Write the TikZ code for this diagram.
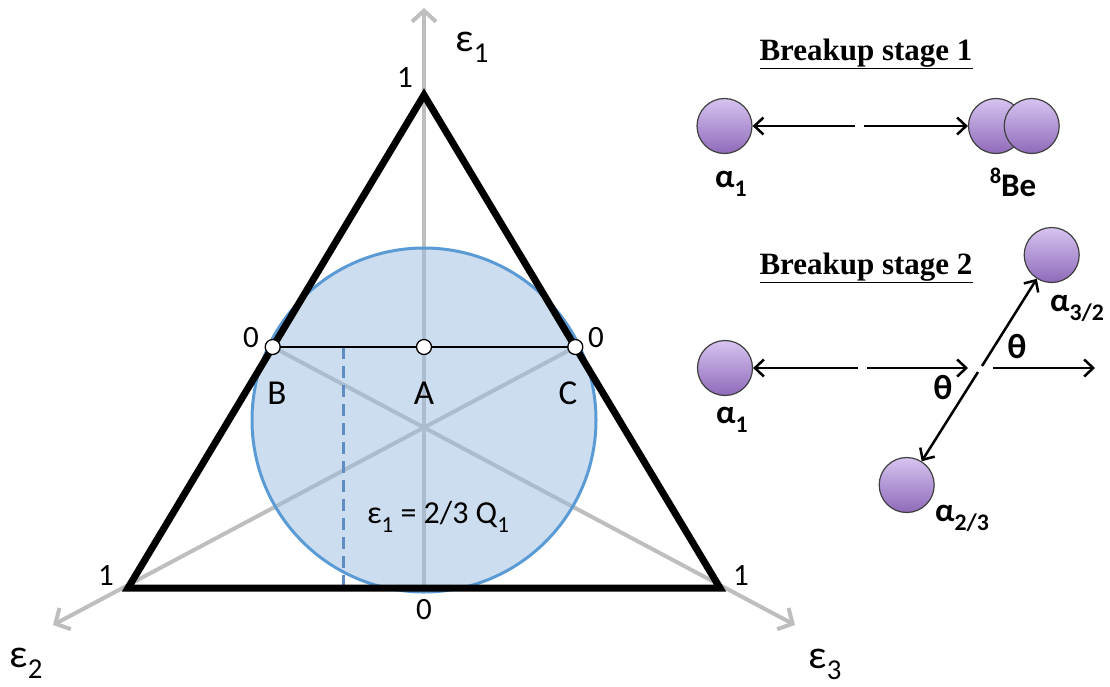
\documentclass[tikz,border=0pt]{standalone}
\usepackage{fontspec}
\setmainfont{Carlito}
\newfontfamily\titlefont{Liberation Serif}
\usetikzlibrary{arrows.meta,calc}

\definecolor{axisgray}{RGB}{190,190,190}
\definecolor{discfill}{RGB}{155,187,225}
\definecolor{discline}{RGB}{91,155,213}
\definecolor{dashblue}{RGB}{95,140,195}
\definecolor{balltop}{RGB}{214,196,240}
\definecolor{ballbot}{RGB}{143,106,186}

% lowered small index, set in the current text font
\newcommand\idx[1]{\raisebox{-0.28em}{\scalebox{0.72}{#1}}}
\newcommand\upidx[1]{\raisebox{0.40em}{\scalebox{0.68}{#1}}}

\tikzset{
  axisarrow/.style={draw=axisgray, line width=4, -{Straight Barb[length=11,width=24]}},
  disc/.style={circle, inner sep=0, minimum size=344, fill=discfill, fill opacity=0.5,
               draw=discline, line width=3},
  dashmark/.style={draw=dashblue, line width=3, dash pattern=on 12 off 7},
  triangle/.style={line width=7, line join=miter},
  chord/.style={line width=2},
  dot/.style={circle, inner sep=0, minimum size=15, fill=white, draw=black, line width=1.3},
  txt/.style={inner sep=1pt},
  num/.style={txt, font=\fontsize{31}{36}\selectfont},
  letter/.style={txt, font=\fontsize{35}{40}\selectfont},
  axislabel/.style={txt, font=\fontsize{40}{46}\selectfont},
  formula/.style={txt, font=\fontsize{32}{38}\selectfont},
  stagetitle/.style={txt, font=\titlefont\bfseries\fontsize{31}{36}\selectfont},
  ball/.style={circle, inner sep=0, minimum size=55, draw=black!75, line width=1.2,
               top color=balltop, bottom color=ballbot},
  particle/.style={txt, font=\bfseries\fontsize{33}{38}\selectfont},
  anglelabel/.style={txt, font=\bfseries\fontsize{35}{40}\selectfont},
  motion/.style={line width=2.5, -{Straight Barb[length=9,width=17]}},
}

\begin{document}
\begin{tikzpicture}[x=1pt,y=-1pt]
\useasboundingbox (0,0) rectangle (1110,686);

% ---------- Dalitz-type triangle ----------
\coordinate (T) at (424,95);
\coordinate (L) at (128,588);
\coordinate (R) at (720,588);
\coordinate (M) at (424,588);
\coordinate (pB) at (272.7,347);
\coordinate (pA) at (424,347);
\coordinate (pC) at (575.3,347);
\coordinate (Etop) at (424,8);
\coordinate (Eleft) at (53,625);
\coordinate (Eright) at (795,625);
\coordinate (dtop) at (343,347);
\coordinate (dbot) at (343,588);

% energy axes
\draw[axisarrow] (M) -- (Etop);
\draw[axisarrow] (pB) -- (Eright);
\draw[axisarrow] (pC) -- (Eleft);

% kinematically allowed region
\node[disc] (D) at (424,420) {};

% fixed epsilon_1 line
\draw[dashmark] (dtop) -- (dbot);

\draw[chord] (pB) -- (pC);
\draw[triangle] (T) -- (L) -- (R) -- cycle;

\node[dot] (B) at (pB) {};
\node[dot] (A) at (pA) {};
\node[dot] (C) at (pC) {};

% scale marks
\node[num] (n1) at (405,78) {1};
\node[num] (n2) at (251,338) {0};
\node[num] (n3) at (596,338) {0};
\node[num] (n4) at (106,576) {1};
\node[num] (n5) at (741,576) {1};
\node[num] (n6) at (424,610) {0};

\node[letter] (lB) at (277,393) {B};
\node[letter] (lA) at (424,393) {A};
\node[letter] (lC) at (568,393) {C};

\node[axislabel] (e1) at (472,47) {ε\idx{1}};
\node[axislabel] (e2) at (26,663) {ε\idx{2}};
\node[axislabel] (e3) at (825,664) {ε\idx{3}};

\node[formula] (f) at (438,517) {ε\idx{1} = 2/3 Q\idx{1}};

% ---------- breakup stage 1 ----------
\node[stagetitle] (s1) at (866,54) {\underline{Breakup stage 1}};
\node[ball] (a1) at (724.5,126) {};
\node[ball] (be1) at (996,126) {};
\node[ball] (be2) at (1031.7,126) {};
\coordinate (g1l) at (855,126);
\coordinate (g1r) at (864,126);
\draw[motion] (g1l) -- (a1);
\draw[motion] (g1r) -- (be1);
\node[particle] (la1) at (731,184) {α\idx{1}};
\node[particle] (lbe) at (1013,182) {\upidx{8}Be};

% ---------- breakup stage 2 ----------
\node[stagetitle] (s2) at (866,268) {\underline{Breakup stage 2}};
\node[ball] (a2) at (725,368) {};
\node[ball] (a3) at (1051.7,255) {};
\node[ball] (a4) at (906.7,485) {};
\coordinate (g2l) at (858,368);
\coordinate (g2r) at (867,368);
\coordinate (g2t) at (968,368);
\coordinate (g3l) at (993,368);
\coordinate (g3r) at (1095,368);
\coordinate (vu) at (982,366);
\coordinate (vd) at (978,372);
\draw[motion] (g2l) -- (a2);
\draw[motion] (g2r) -- (g2t);
\draw[motion] (g3l) -- (g3r);
\draw[motion] (vu) -- (a3);
\draw[motion] (vd) -- (a4);
\node[anglelabel] (th1) at (943,388) {θ};
\node[anglelabel] (th2) at (1017,347) {θ};
\node[particle] (la2) at (732,420) {α\idx{1}};
\node[particle] (la3) at (1077,308) {α\idx{3/2}};
\node[particle] (la4) at (962,518) {α\idx{2/3}};
\end{tikzpicture}
\end{document}
